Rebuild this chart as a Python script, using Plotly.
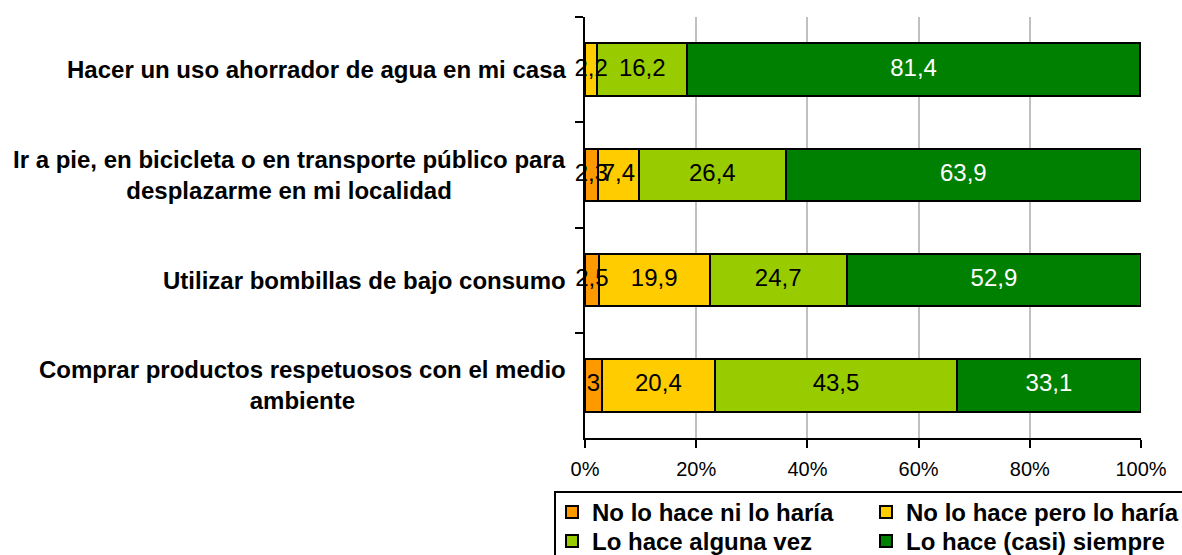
import plotly.graph_objects as go

# ---- data ----
categories = [
    "Hacer un uso ahorrador de agua en mi casa",
    "Ir a pie, en bicicleta o en transporte público para<br>desplazarme en mi localidad",
    "Utilizar bombillas de bajo consumo",
    "Comprar productos respetuosos con el medio<br>ambiente",
]
no_ni_haria = [0, 2.3, 2.5, 3.0]
no_pero_haria = [2.2, 7.4, 19.9, 20.4]
alguna_vez = [16.2, 26.4, 24.7, 43.5]
casi_siempre = [81.4, 63.9, 52.9, 33.1]

series_names = [
    "No lo hace ni lo haría",
    "No lo hace pero lo haría",
    "Lo hace alguna vez",
    "Lo hace (casi) siempre",
]
series_values = [no_ni_haria, no_pero_haria, alguna_vez, casi_siempre]
x_ticks = [0, 20, 40, 60, 80, 100]

# ---- styles ----
colors = ["#FF9900", "#FFCC00", "#99CC00", "#008000"]
text_colors = ["black", "black", "black", "white"]
legend_ids = ["legend", "legend", "legend2", "legend2"]
FONT = "Liberation Sans, Arial, sans-serif"

W, H = 1182, 555
ML, MR, MT, MB = 585, 41, 17, 117
PW, PH = W - ML - MR, H - MT - MB


def px_x(p):
    return (p - ML) / PW


def px_y(p):
    return (H - MB - p) / PH


def fmt(v):
    if v == 0:
        return ""
    return f"{v:g}".replace(".", ",")


fig = go.Figure()
for name, vals, col, lg in zip(series_names, series_values, colors, legend_ids):
    fig.add_trace(go.Bar(
        y=categories, x=vals, name=name, orientation="h",
        marker=dict(color=col, line=dict(color="black", width=2)),
        legend=lg, hoverinfo="skip",
    ))

# value labels drawn above all bars (centred on each stacked segment)
bases = [0.0] * len(categories)
for vals, tcol in zip(series_values, text_colors):
    mids = [b + v / 2 for b, v in zip(bases, vals)]
    fig.add_trace(go.Scatter(
        x=mids, y=categories, mode="text", text=[fmt(v) for v in vals],
        textposition="middle center",
        textfont=dict(family=FONT, size=24, color=tcol),
        showlegend=False, cliponaxis=False, hoverinfo="skip",
    ))
    bases = [b + v for b, v in zip(bases, vals)]

for cat in categories:
    fig.add_annotation(
        x=0, xref="paper", y=cat, yref="y", text=cat, showarrow=False,
        xanchor="right", xshift=-17, align="center",
        font=dict(family=FONT, size=24, color="black", weight="bold"),
    )

fig.add_shape(
    type="rect", xref="paper", yref="paper",
    x0=px_x(555), x1=px_x(1200), y0=px_y(492), y1=px_y(570),
    line=dict(color="black", width=2), fillcolor="rgba(0,0,0,0)",
)

legend_common = dict(
    orientation="h", xanchor="left", yanchor="top", x=px_x(552),
    entrywidth=269, entrywidthmode="pixels", traceorder="normal",
    bgcolor="rgba(0,0,0,0)", borderwidth=0,
    font=dict(family=FONT, size=24, color="black", weight="bold"),
)

fig.update_layout(
    width=W, height=H,
    margin=dict(l=ML, r=MR, t=MT, b=MB, autoexpand=False),
    barmode="stack", bargap=0.5,
    plot_bgcolor="white", paper_bgcolor="white",
    font=dict(family=FONT, color="black"),
    legend=dict(legend_common, y=px_y(490)),
    legend2=dict(legend_common, y=px_y(519)),
    xaxis=dict(
        range=[0, 100], tickvals=x_ticks, ticktext=[f"{t}%" for t in x_ticks],
        showgrid=True, gridcolor="#C0C0C0", gridwidth=2, zeroline=False,
        showline=True, linecolor="black", linewidth=2,
        ticks="outside", ticklen=8, tickwidth=2, tickcolor="black",
        tickfont=dict(family=FONT, size=20, color="black"),
        ticklabelstandoff=4, fixedrange=True,
    ),
    yaxis=dict(
        categoryorder="array", categoryarray=categories, autorange="reversed",
        showgrid=False, zeroline=False, showticklabels=False,
        showline=True, linecolor="black", linewidth=2,
        ticks="outside", tickson="boundaries", ticklen=8, tickwidth=2,
        tickcolor="black", fixedrange=True,
    ),
)

fig.write_html(
    "out.html",
    config={"displayModeBar": False},
    post_script="document.body.style.margin='0';",
)
